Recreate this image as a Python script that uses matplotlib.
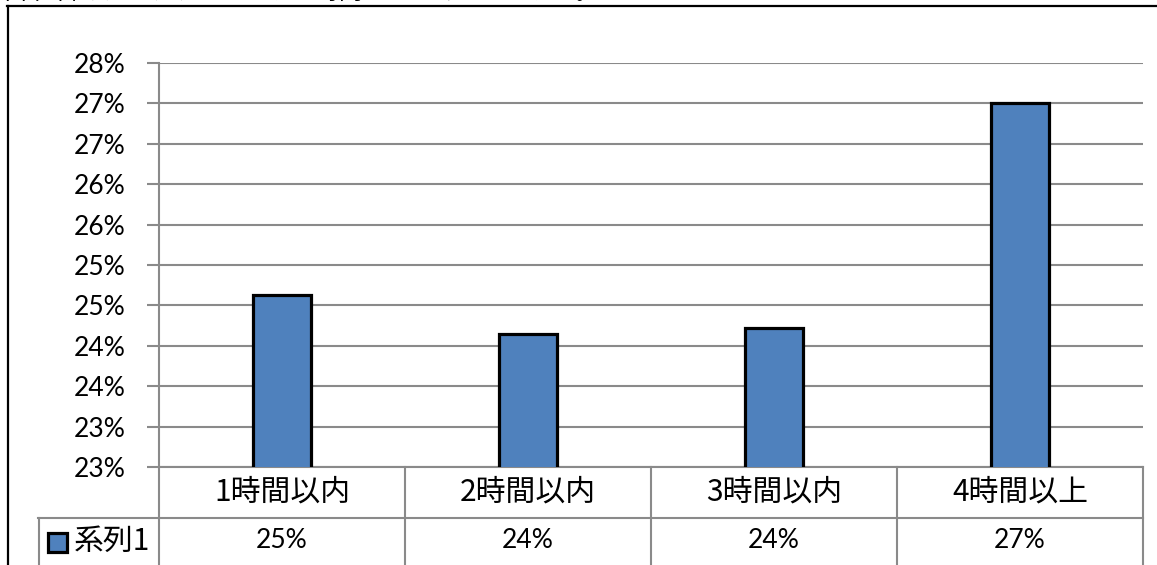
import matplotlib
matplotlib.use('Agg')
import matplotlib.pyplot as plt
import matplotlib.transforms as mtransforms
from matplotlib.patches import Rectangle
from matplotlib.lines import Line2D

# ---- data ----
categories = ['1時間以内', '2時間以内', '3時間以内', '4時間以上']
values = [24.63, 24.14, 24.22, 27.0]
value_labels = ['25%', '24%', '24%', '27%']
series_name = '系列1'
ytick_values = [22.5, 23.0, 23.5, 24.0, 24.5, 25.0, 25.5, 26.0, 26.5, 27.0, 27.5]
ytick_labels = ['23%', '23%', '24%', '24%', '25%', '25%', '26%', '26%', '27%', '27%', '28%']
title_text = '平日1日あたり、ゲームをする時間はどのくらいですか。'

BAR_COLOR = '#4F81BD'
GRID = '#8A8A8A'
LAT = ['Lato', 'Noto Sans CJK JP']
JP = ['Noto Sans CJK JP', 'DejaVu Sans']

W, H = 1157, 565
fig = plt.figure(figsize=(W / 100, H / 100), dpi=100)

def px(x, y):
    return x / W, (H - y) / H

# plot area
x0, x1, ytop, ybot = 159, 1143, 63, 467
ax = fig.add_axes([x0 / W, (H - ybot) / H, (x1 - x0) / W, (ybot - ytop) / H])
xs = list(range(len(categories)))
ax.bar(xs, values, width=0.232, color=BAR_COLOR, edgecolor='black',
       linewidth=2.3, zorder=3)
ax.set_xlim(-0.5, len(categories) - 0.5)
ax.set_ylim(ytick_values[0], ytick_values[-1])
ax.set_yticks(ytick_values)
ax.set_yticklabels(ytick_labels, family=LAT, fontsize=19)
ax.tick_params(axis='y', length=9, width=1.5, color=GRID, pad=15)
ax.set_xticks([])
ax.grid(axis='y', color=GRID, linewidth=1.5, zorder=0)
ax.set_axisbelow(True)
for s in ['top', 'right']:
    ax.spines[s].set_visible(False)
for s in ['left', 'bottom']:
    ax.spines[s].set_color(GRID)
    ax.spines[s].set_linewidth(1.5)

# data table below the axis
trans = mtransforms.blended_transform_factory(ax.transData, ax.transAxes)
ah = ybot - ytop
r1 = -(518 - ybot) / ah
r2 = -(600 - ybot) / ah
lw = 1.5
for i in range(len(categories) + 1):
    xb = i - 0.5
    ax.add_line(Line2D([xb, xb], [0, r2], transform=trans, color=GRID,
                       lw=lw, clip_on=False))
ax.add_line(Line2D([-0.5, len(categories) - 0.5], [r1, r1], transform=trans,
                   color=GRID, lw=lw, clip_on=False))
r1_mid = -(492 - ybot) / ah
r2_mid = -(541 - ybot) / ah
for i, (c, v) in enumerate(zip(categories, value_labels)):
    ax.text(i, r1_mid, c, transform=trans, ha='center', va='center',
            family=JP, fontsize=21.5)
    ax.text(i, r2_mid, v, transform=trans, ha='center', va='center',
            family=LAT, fontsize=19)

# legend cell
fig.add_artist(Line2D([38 / W, x0 / W], [(H - 518) / H, (H - 518) / H],
                      transform=fig.transFigure, color=GRID, lw=lw))
fig.add_artist(Line2D([38.5 / W, 38.5 / W], [(H - 518) / H, 0],
                      transform=fig.transFigure, color=GRID, lw=lw))
sx, sy = px(48, 552)
fig.add_artist(Rectangle((sx, sy), 19 / W, 19 / H, transform=fig.transFigure,
                         facecolor=BAR_COLOR, edgecolor='black', lw=2.3))
fig.text(*px(74, 541), series_name, family=JP, fontsize=21.5, ha='left',
         va='center')

# outer frame
fig.add_artist(Line2D([7.5 / W, 7.5 / W], [(H - 6) / H, 0],
                      transform=fig.transFigure, color='black', lw=1.6))
fig.add_artist(Line2D([7 / W, 1], [(H - 6) / H, (H - 6) / H],
                      transform=fig.transFigure, color='black', lw=1.6))

# cut-off title at top
fig.text(*px(-4, -1), title_text, family=JP, fontsize=17, ha='left',
         va='baseline')

fig.savefig('out.png', dpi=100)
